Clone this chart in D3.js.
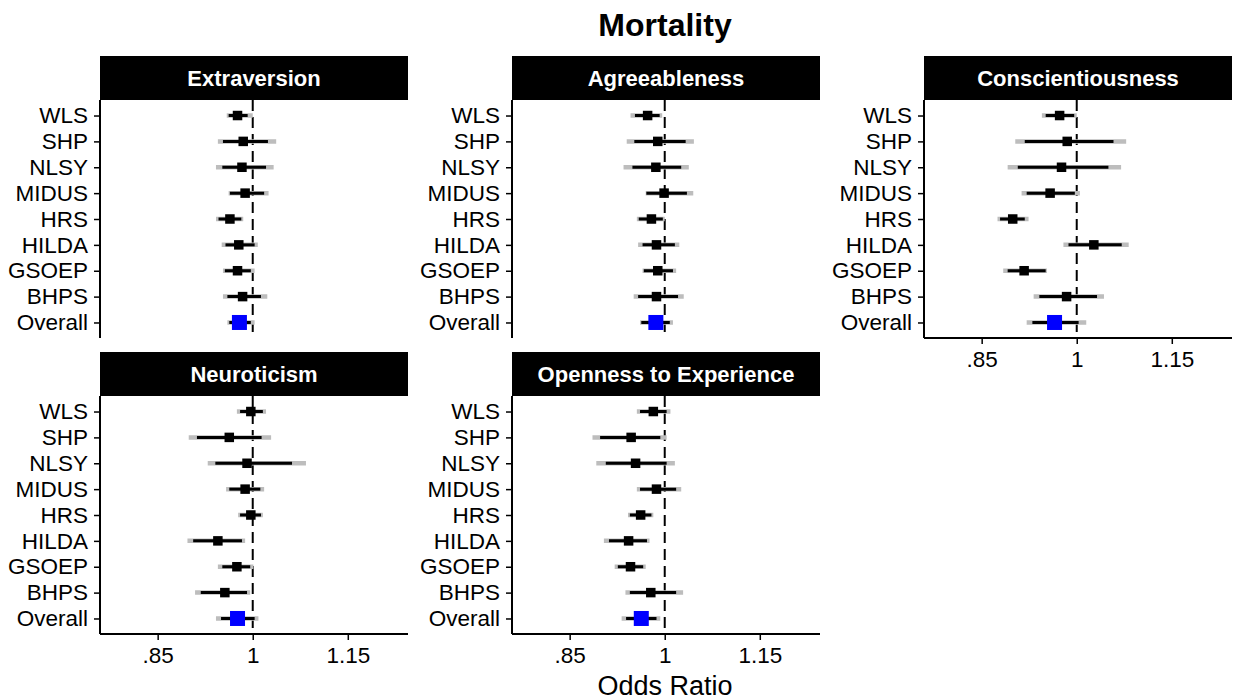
<!DOCTYPE html>
<html>
<head>
<meta charset="utf-8">
<script src="https://cdn.jsdelivr.net/npm/d3@7"></script>
<style>
  body { margin: 0; background: #fff; }
  svg { font-family: "Liberation Sans", Arial, sans-serif; }
</style>
</head>
<body>
<svg id="chart" width="1235" height="700"></svg>
<script>
// studies, top to bottom
const studies = ["WLS", "SHP", "NLSY", "MIDUS", "HRS", "HILDA", "GSOEP", "BHPS", "Overall"];
const traits = ["Extraversion", "Agreeableness", "Conscientiousness", "Neuroticism", "Openness to Experience"];
const xTicks = [0.85, 1, 1.15];
const xTickLabels = [".85", "1", "1.15"];

// odds ratio estimates, one row per trait (same order as traits)
const est = [
  [0.976, 0.985, 0.983, 0.988, 0.964, 0.978, 0.976, 0.984, 0.979],
  [0.973, 0.989, 0.986, 0.999, 0.979, 0.987, 0.989, 0.987, 0.986],
  [0.973, 0.985, 0.976, 0.958, 0.899, 1.027, 0.917, 0.984, 0.965],
  [0.997, 0.963, 0.991, 0.988, 0.997, 0.945, 0.975, 0.956, 0.976],
  [0.982, 0.947, 0.954, 0.987, 0.962, 0.943, 0.946, 0.978, 0.963]
];
// inner (black) interval
const lo95 = [
  [0.962, 0.953, 0.952, 0.964, 0.946, 0.957, 0.956, 0.960, 0.963],
  [0.953, 0.952, 0.949, 0.971, 0.959, 0.965, 0.967, 0.958, 0.963],
  [0.951, 0.918, 0.907, 0.921, 0.879, 0.987, 0.891, 0.941, 0.930],
  [0.980, 0.912, 0.941, 0.963, 0.980, 0.906, 0.952, 0.918, 0.950],
  [0.961, 0.898, 0.907, 0.961, 0.945, 0.912, 0.926, 0.945, 0.939]
];
const hi95 = [
  [0.992, 1.024, 1.021, 1.018, 0.982, 1.003, 0.997, 1.013, 0.997],
  [0.992, 1.033, 1.026, 1.035, 0.997, 1.016, 1.013, 1.021, 1.008],
  [0.996, 1.058, 1.050, 0.997, 0.918, 1.071, 0.951, 1.032, 1.003],
  [1.016, 1.014, 1.062, 1.012, 1.013, 0.983, 0.996, 0.991, 1.003],
  [1.003, 0.993, 1.003, 1.018, 0.979, 0.972, 0.966, 1.018, 0.987]
];
// outer (grey) interval
const lo99 = [
  [0.959, 0.945, 0.942, 0.962, 0.942, 0.951, 0.953, 0.953, 0.960],
  [0.946, 0.940, 0.935, 0.970, 0.956, 0.958, 0.965, 0.951, 0.961],
  [0.945, 0.903, 0.891, 0.913, 0.875, 0.979, 0.884, 0.932, 0.921],
  [0.975, 0.899, 0.929, 0.958, 0.977, 0.897, 0.945, 0.909, 0.942],
  [0.956, 0.886, 0.892, 0.956, 0.942, 0.904, 0.921, 0.938, 0.932]
];
const hi99 = [
  [1.000, 1.037, 1.033, 1.025, 0.985, 1.008, 1.003, 1.023, 1.003],
  [0.996, 1.046, 1.038, 1.045, 1.000, 1.023, 1.018, 1.030, 1.013],
  [1.000, 1.078, 1.070, 1.005, 0.924, 1.082, 0.953, 1.043, 1.015],
  [1.021, 1.029, 1.084, 1.018, 1.016, 0.988, 1.001, 0.996, 1.009],
  [1.009, 1.003, 1.016, 1.026, 0.982, 0.976, 0.970, 1.029, 0.993]
];

const svg = d3.select("#chart");

// facet layout (3 columns, 2 rows)
const colX = [100, 512, 924];
const rowY = [56, 352];
const panelW = 308, stripH = 44, panelH = 238;

const x = d3.scaleLinear().domain([0.759, 1.245]).range([0, panelW]);
const y = d3.scalePoint().domain(studies).range([0, panelH]).padding(0.6);

svg.append("text")
  .attr("x", 665).attr("y", 36)
  .attr("text-anchor", "middle")
  .style("font-size", "32px").style("font-weight", "bold")
  .text("Mortality");

traits.forEach((trait, i) => {
  const col = i % 3, row = Math.floor(i / 3);
  const g = svg.append("g").attr("transform", `translate(${colX[col]}, ${rowY[row]})`);

  // strip
  g.append("rect").attr("width", panelW).attr("height", stripH).attr("fill", "#000");
  g.append("text")
    .attr("x", panelW / 2).attr("y", stripH / 2).attr("dy", "0.36em")
    .attr("text-anchor", "middle")
    .style("font-size", "22px").style("font-weight", "bold").style("fill", "#fff")
    .text(trait);

  const p = g.append("g").attr("transform", `translate(0, ${stripH})`);

  const rows = studies.map((s, j) => ({
    study: s, est: est[i][j],
    lo: lo95[i][j], hi: hi95[i][j],
    lo2: lo99[i][j], hi2: hi99[i][j]
  }));

  // reference line at 1
  p.append("line")
    .attr("x1", x(1)).attr("x2", x(1))
    .attr("y1", 0).attr("y2", panelH)
    .attr("stroke", "#000").attr("stroke-width", 2)
    .attr("stroke-dasharray", "11,6");

  p.selectAll(".outer").data(rows).join("line")
    .attr("x1", d => x(d.lo2)).attr("x2", d => x(d.hi2))
    .attr("y1", d => y(d.study)).attr("y2", d => y(d.study))
    .attr("stroke", "#bdbdbd").attr("stroke-width", 4.5);

  p.selectAll(".inner").data(rows).join("line")
    .attr("x1", d => x(d.lo)).attr("x2", d => x(d.hi))
    .attr("y1", d => y(d.study)).attr("y2", d => y(d.study))
    .attr("stroke", "#000").attr("stroke-width", 3);

  p.selectAll(".pt").data(rows).join("rect")
    .attr("width", d => d.study === "Overall" ? 15 : 9.5)
    .attr("height", d => d.study === "Overall" ? 15 : 9.5)
    .attr("x", d => x(d.est) - (d.study === "Overall" ? 7.5 : 4.75))
    .attr("y", d => y(d.study) - (d.study === "Overall" ? 7.5 : 4.75))
    .attr("fill", d => d.study === "Overall" ? "#0000ff" : "#000");

  // y axis
  const ya = p.append("g").call(d3.axisLeft(y).tickSize(6).tickPadding(6));
  ya.select(".domain").attr("stroke-width", 2).attr("d", `M0,0V${panelH}`);
  ya.selectAll(".tick line").attr("stroke-width", 1.5);
  ya.selectAll(".tick text").style("font-size", "22.5px").style("fill", "#000");

  // x axis only where no panel below
  if (row === 1 || col === 2) {
    const xa = p.append("g").attr("transform", `translate(0, ${panelH})`)
      .call(d3.axisBottom(x).tickValues(xTicks).tickFormat((d, k) => xTickLabels[k]).tickSize(6).tickPadding(7));
    xa.select(".domain").attr("stroke-width", 2).attr("d", `M0,0H${panelW}`);
    xa.selectAll(".tick line").attr("stroke-width", 1.5);
    xa.selectAll(".tick text").style("font-size", "22.5px").style("fill", "#000");
  }
});

svg.append("text")
  .attr("x", 665).attr("y", 695)
  .attr("text-anchor", "middle")
  .style("font-size", "27px")
  .text("Odds Ratio");
</script>
</body>
</html>
